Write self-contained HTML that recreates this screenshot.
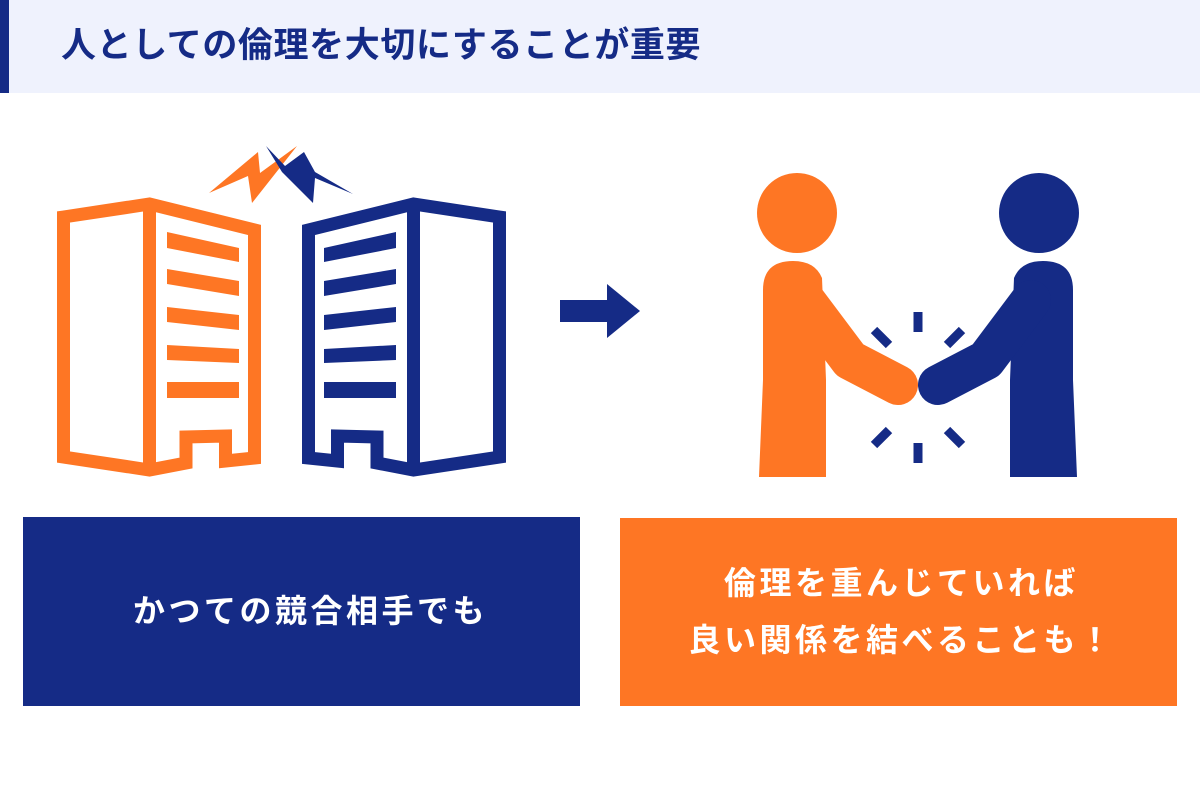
<!DOCTYPE html>
<html><head><meta charset="utf-8"><style>
body{margin:0;width:1200px;height:804px;background:#fff;overflow:hidden;position:relative;font-family:"Liberation Sans","Noto Sans CJK JP",sans-serif;}
.hd{position:absolute;left:0;top:0;width:1200px;height:93px;background:#eff2fd;}
.bar{position:absolute;left:0;top:0;width:9px;height:93px;background:#152b86;}
.ttl{position:absolute;left:61px;top:24px;font-size:35px;font-weight:bold;color:#152b86;line-height:44px;white-space:nowrap;letter-spacing:0.6px;}
.box{position:absolute;display:flex;align-items:center;justify-content:center;text-align:center;color:#fff;font-weight:bold;font-size:32px;letter-spacing:3.5px;line-height:57px;box-sizing:border-box;}
</style></head><body>
<div class="hd"></div><div class="bar"></div>
<div class="ttl">人としての倫理を大切にすることが重要</div>
<svg width="1200" height="804" style="position:absolute;left:0;top:0">
<g fill="none" stroke="#fe7624" stroke-width="13">
<path d="M63.5,217 L149.5,204 L254.5,230 L254.5,458 L225.5,461 L225.5,436 L186,437 L186,463 L149.5,470 L63.5,457 Z"/>
<line x1="149.5" y1="204" x2="149.5" y2="470"/>
<g stroke="none" fill="#fe7624">
<polygon points="167,232 239,248 239,262 167,248"/>
<polygon points="167,269 239,281 239,296 167,284"/>
<polygon points="167,307 239,315 239,330 167,322"/>
<polygon points="167,345 239,349 239,363 167,360"/>
<polygon points="167,382 239,382 239,398 167,398"/>
</g></g>
<g transform="translate(563,0) scale(-1,1)" fill="none" stroke="#152b86" stroke-width="13">
<path d="M63.5,217 L149.5,204 L254.5,230 L254.5,458 L225.5,461 L225.5,436 L186,437 L186,463 L149.5,470 L63.5,457 Z"/>
<line x1="149.5" y1="204" x2="149.5" y2="470"/>
<g stroke="none" fill="#152b86">
<polygon points="167,232 239,248 239,262 167,248"/>
<polygon points="167,269 239,281 239,296 167,284"/>
<polygon points="167,307 239,315 239,330 167,322"/>
<polygon points="167,345 239,349 239,363 167,360"/>
<polygon points="167,382 239,382 239,398 167,398"/>
</g></g>
<polygon points="209,193 258,152 260,173 297,146 252,203 248,176" fill="#fe7624"/>
<polygon points="266,146 285,166 304,152 315,172 353,194 315,178 313,203 282,172" fill="#152b86"/>
<rect x="560" y="300" width="50" height="22" fill="#152b86"/>
<polygon points="607,284 640,311 607,338" fill="#152b86"/>
<g fill="#fe7624">
<circle cx="797" cy="213" r="40"/>
<path d="M763,290 Q763,261 793,261 Q815,261 822,278 L826,380 L826,477 L759,477 L763,380 Z"/>
<polyline points="805,300 850,360 898,385" fill="none" stroke="#fe7624" stroke-width="40" stroke-linecap="round" stroke-linejoin="round"/>
</g>
<g transform="translate(1836,0) scale(-1,1)" fill="#152b86">
<circle cx="797" cy="213" r="40"/>
<path d="M763,290 Q763,261 793,261 Q815,261 822,278 L826,380 L826,477 L759,477 L763,380 Z"/>
<polyline points="805,300 850,360 898,385" fill="none" stroke="#152b86" stroke-width="40" stroke-linecap="round" stroke-linejoin="round"/>
</g>
<g stroke="#152b86" stroke-width="9">
<line x1="918" y1="312" x2="918" y2="332"/>
<line x1="918" y1="443" x2="918" y2="463"/>
<line x1="874" y1="330" x2="889" y2="345"/>
<line x1="962" y1="330" x2="947" y2="345"/>
<line x1="874" y1="445" x2="889" y2="430"/>
<line x1="962" y1="445" x2="947" y2="430"/>
</g>
</svg>
<div class="box" style="left:23px;top:517px;width:557px;height:189px;background:#152b86;padding-left:18px;">かつての競合相手でも</div>
<div class="box" style="left:620px;top:518px;width:557px;height:188px;background:#fe7624;padding-left:6px;">倫理を重んじていれば<br>良い関係を結べることも！</div>
</body></html>
